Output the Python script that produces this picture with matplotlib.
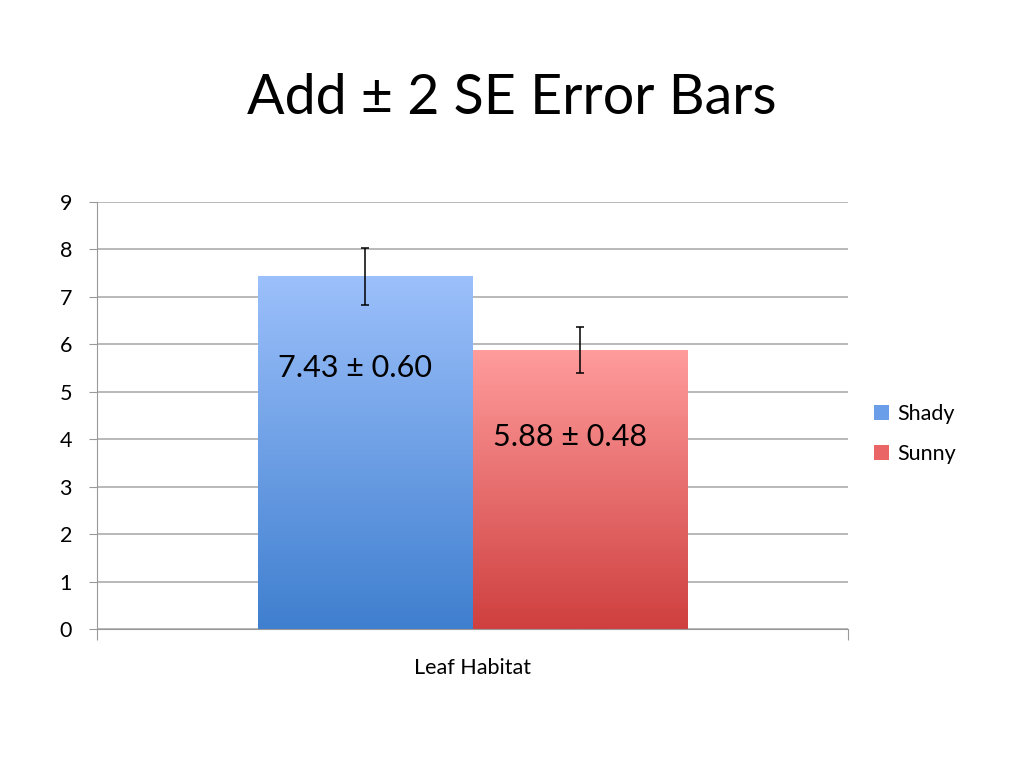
import numpy as np
import matplotlib
matplotlib.use('Agg')
import matplotlib.pyplot as plt
from matplotlib.colors import LinearSegmentedColormap
from matplotlib.patches import Patch

plt.rcParams['font.family'] = ['Lato', 'DejaVu Sans']

# data
groups = ['Shady', 'Sunny']
means = [7.43, 5.88]
errs = [0.60, 0.48]
category = 'Leaf Habitat'
labels = ['7.43 \u00b1 0.60', '5.88 \u00b1 0.48']
label_y = [5.5, 4.05]
yticks = list(range(0, 10))

top_colors = ['#9cc0fb', '#ff9c9c']
bot_colors = ['#3f7fcf', '#cf3f3f']
leg_colors = ['#6b9ee8', '#ea6666']

fig = plt.figure(figsize=(10.24, 7.68), dpi=100)
ax = fig.add_axes([97/1024, 1 - 629/768, (848-97)/1024, (629-202)/768])

bw = 215 / 751
xs = [-bw/2, bw/2]
grad = np.linspace(1, 0, 256).reshape(-1, 1)

for i in range(len(groups)):
    cmap = LinearSegmentedColormap.from_list('g%d' % i, [bot_colors[i], top_colors[i]])
    ax.imshow(grad, cmap=cmap, aspect='auto', zorder=2,
              extent=[xs[i] - bw/2, xs[i] + bw/2, 0, means[i]], vmin=0, vmax=1)
    ax.errorbar(xs[i], means[i], yerr=errs[i], fmt='none', ecolor='black',
                elinewidth=1.1, capsize=3, capthick=1.1, zorder=4)
    ax.text(xs[i] - 0.013, label_y[i], labels[i], ha='center', va='center',
            fontsize=22, color='black', zorder=5)

ax.set_xlim(-0.5, 0.5)
ax.set_ylim(0, 9)
ax.set_yticks(yticks)
ax.tick_params(axis='y', labelsize=15.5, length=6, color='#999999', pad=12)
ax.set_xticks([-0.5, 0.5])
ax.set_xticklabels(['', ''])
ax.set_xticks([0], [category], minor=True)
ax.tick_params(axis='x', which='major', length=8, color='#999999')
ax.tick_params(axis='x', which='minor', length=0, labelsize=15.5, pad=21)
ax.yaxis.grid(True, color='#a6a6a6', linewidth=1.1, zorder=0)
ax.set_axisbelow(True)
for s in ['top', 'right']:
    ax.spines[s].set_visible(False)
ax.spines['left'].set_color('#999999')
ax.spines['bottom'].set_color('#999999')

handles = [Patch(facecolor=leg_colors[i], edgecolor='none') for i in range(len(groups))]
fig.legend(handles, groups, loc='center left', bbox_to_anchor=(855/1024, 1 - 434/768),
           frameon=False, fontsize=15.5, handlelength=0.7, handleheight=0.7,
           handletextpad=0.35, labelspacing=0.95)

fig.text(0.5, 1 - 98/768, 'Add \u00b1 2 SE Error Bars', ha='center', va='center', fontsize=40)

fig.savefig('out.png', dpi=100)
